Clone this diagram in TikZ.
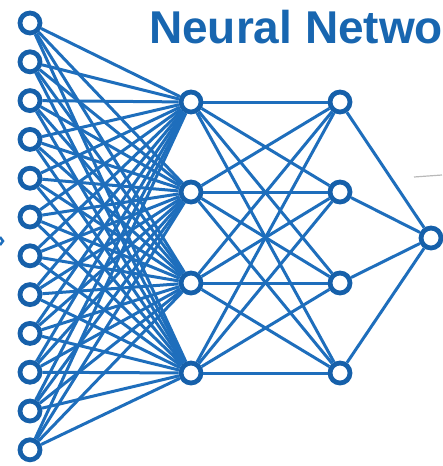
\documentclass[tikz,border=0pt]{standalone}
\usepackage{fontspec}
\setmainfont{Liberation Sans}
\definecolor{netblue}{RGB}{30,110,188}
\definecolor{nodeblue}{RGB}{22,96,170}
\definecolor{titleblue}{RGB}{24,102,176}
\begin{document}
\begin{tikzpicture}[x=1pt, y=-1pt, neuron/.style={circle, draw=nodeblue, line width=4.8pt, minimum size=20pt, inner sep=0pt, fill=white}, link/.style={draw=netblue, line width=3pt}]
    \useasboundingbox (0,0) rectangle (442,466);
    % Titre
    \node[anchor=base west, inner sep=0pt, text=titleblue, font=\bfseries\fontsize{46}{46}\selectfont] (titre) at (149,43) {Neural Netwo};

    % Couche d'entree
    \foreach \i in {1,...,12}
        \node[neuron] (I\i) at (30,{23+38.8*(\i-1)}) {};

    % Couches cachees
    \foreach \j/\y in {1/102,2/192,3/283,4/373} {
        \node[neuron] (H\j) at (191,\y) {};
        \node[neuron] (K\j) at (340,\y) {};
    }

    % Sortie
    \node[neuron] (O) at (431,238) {};

    % Connexions entree -> cachee 1
    \foreach \i in {1,...,12}
        \foreach \j in {1,...,4}
            \draw[link] (I\i) -- (H\j);

    % Connexions cachee 1 -> cachee 2
    \foreach \j in {1,...,4}
        \foreach \k in {1,...,4}
            \draw[link] (H\j) -- (K\k);

    % Connexions cachee 2 -> sortie
    \foreach \k in {1,...,4}
        \draw[link] (K\k) -- (O);

    % Fragments en bordure
    \coordinate (g1) at (414,177);
    \coordinate (g2) at (442,175);
    \draw[gray!55, line width=1.2pt] (g1) -- (g2);
    \coordinate (b1) at (0,237);
    \coordinate (b2) at (3,241);
    \coordinate (b3) at (0,245);
    \draw[netblue, line width=2.5pt] (b1) -- (b2) -- (b3);
\end{tikzpicture}
\end{document}
